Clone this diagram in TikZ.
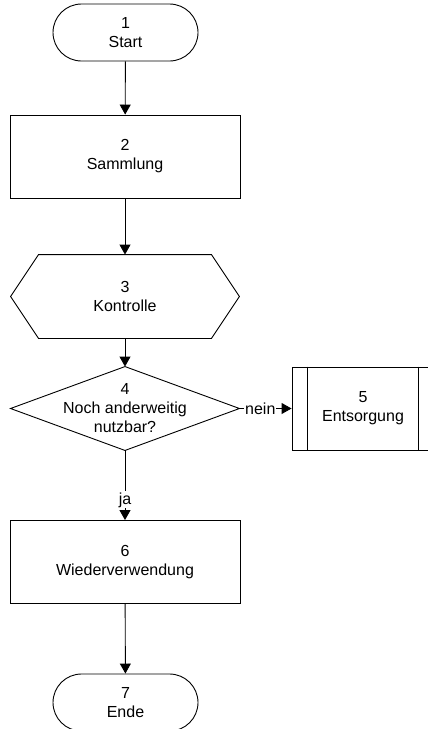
\documentclass[tikz,border=0pt]{standalone}
\usepackage{fontspec}
\setmainfont{Liberation Sans}
\usetikzlibrary{arrows.meta}
\tikzstyle{terminal}=[rectangle,draw,rounded corners=28.5pt,minimum width=145pt,minimum height=57pt,align=center]
\tikzstyle{process}=[rectangle,draw,minimum width=230pt,minimum height=83pt,align=center]
\tikzstyle{plainbox}=[rectangle,minimum width=228pt,minimum height=83pt,align=center]
\tikzstyle{line}=[draw,-{Triangle[length=10pt,width=11pt]}]
\tikzstyle{answer}=[fill=white,inner sep=1pt]

\begin{document}
\begin{tikzpicture}[x=1pt,y=-1pt,line width=0.9pt,font=\fontsize{16}{19}\selectfont]
\useasboundingbox (0,0) rectangle (428,729);

\node[terminal] (start) at (125.5,32.5) {1\\Start};
\node[process] (sammlung) at (125,156.5) {2\\Sammlung};
\node[plainbox] (kontrolle) at (125,296.5) {3\\Kontrolle};
\node[plainbox] (nutzbar) at (125,408.5) {4\\Noch anderweitig\\nutzbar?};
\node[process,minimum width=142pt] (entsorgung) at (363,408.5) {5\\Entsorgung};
\node[process] (wiederverwendung) at (125,562) {6\\Wiederverwendung};
\node[terminal] (ende) at (125.5,702.5) {7\\Ende};

% hexagon and diamond around the plain boxes
\draw (kontrolle.west) -- ([xshift=28pt]kontrolle.north west) -- ([xshift=-28pt]kontrolle.north east)
  -- (kontrolle.east) -- ([xshift=-28pt]kontrolle.south east) -- ([xshift=28pt]kontrolle.south west) -- cycle;
\draw (nutzbar.west) -- (nutzbar.north) -- (nutzbar.east) -- (nutzbar.south) -- cycle;
% side bars of the subprocess
\draw ([xshift=16pt]entsorgung.north west) -- ([xshift=16pt]entsorgung.south west);
\draw ([xshift=-16pt]entsorgung.north east) -- ([xshift=-16pt]entsorgung.south east);

% arrows
\path[line] (start) -- (sammlung);
\path[line] (sammlung) -- (kontrolle);
\path[line] (kontrolle) -- (nutzbar);
\path[line] (nutzbar) -- node[answer,pos=0.4] (nein) {nein} (entsorgung);
\path[line] (nutzbar) -- node[answer,pos=0.71] (ja) {ja} (wiederverwendung);
\path[line] (wiederverwendung) -- (ende);
\end{tikzpicture}
\end{document}
